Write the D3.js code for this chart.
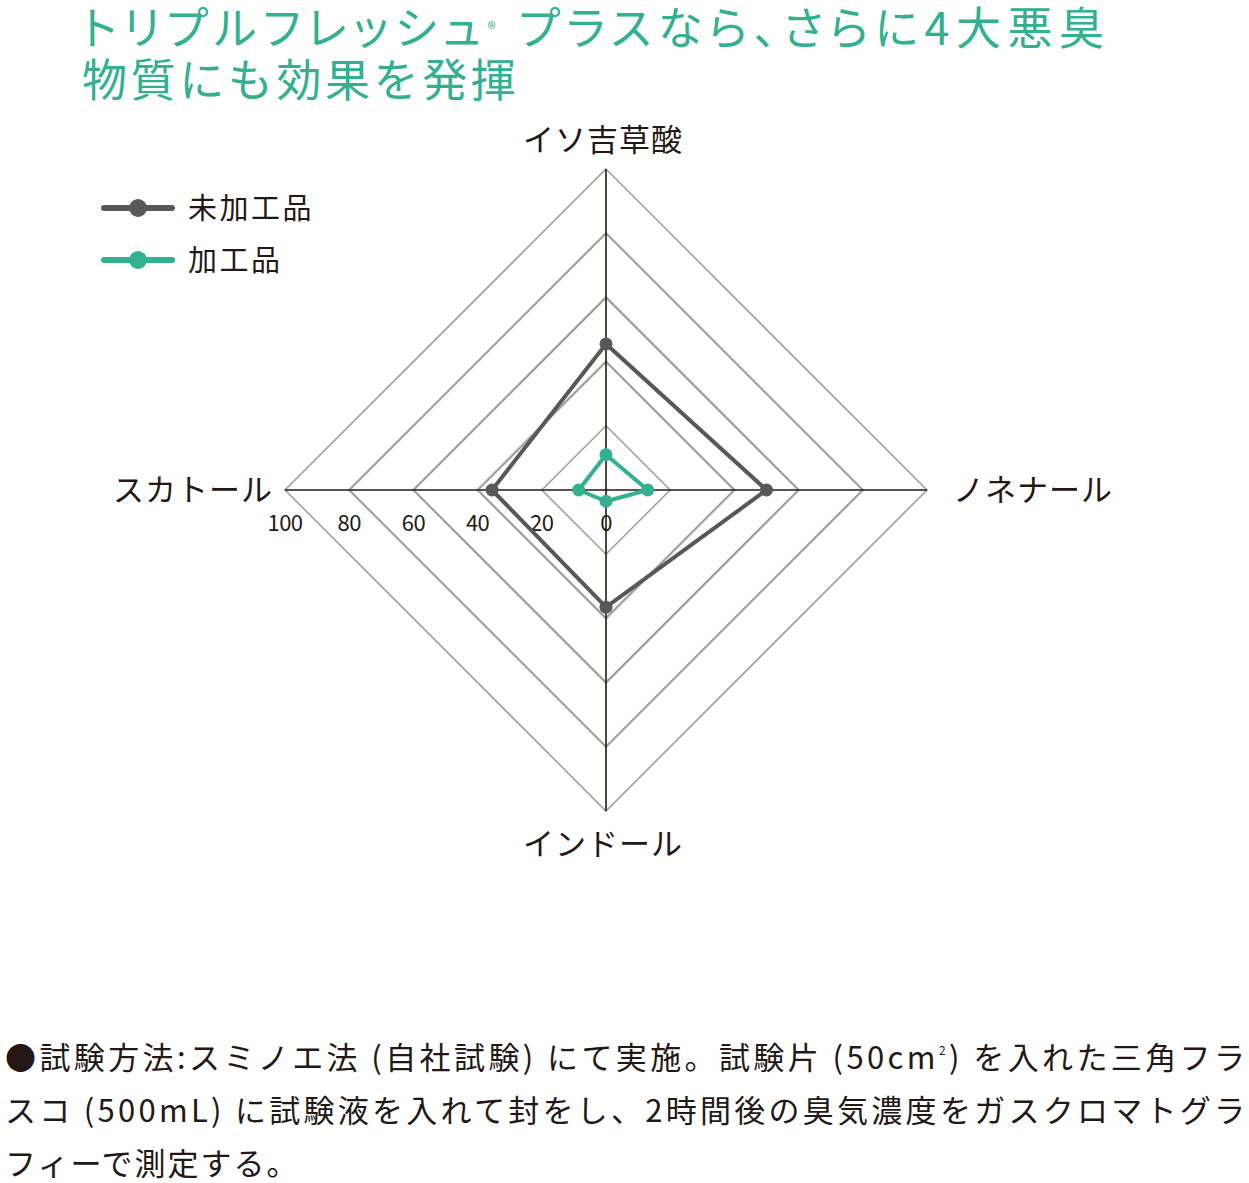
<!DOCTYPE html>
<html>
<head>
<meta charset="utf-8">
<script src="https://cdn.jsdelivr.net/npm/d3@7"></script>
<style>
  body { margin: 0; background: #fff; }
  svg text { font-family: "Noto Sans CJK JP", "Noto Sans", sans-serif; }
  .palt { font-feature-settings: "palt"; }
</style>
</head>
<body>
<div id="chart"></div>
<script>
const axes = ["イソ吉草酸", "ノネナール", "インドール", "スカトール"];
const seriesNames = ["未加工品", "加工品"];
const rawValues = [45.5, 50, 36.5, 35.5];
const treatedValues = [11, 13, 3.5, 8.5];
const ticks = [0, 20, 40, 60, 80, 100];
const noteLines = [
  "●試験方法:スミノエ法 (自社試験) にて実施。試験片 (50cm²) を入れた三角フラ",
  "スコ (500mL) に試験液を入れて封をし、2時間後の臭気濃度をガスクロマトグラ",
  "フィーで測定する。"
];

const W = 1249, H = 1183;
const cx = 606, cy = 490;
const green = "#33b08f", gray = "#595757", ink = "#231815";

const svg = d3.select("#chart").append("svg")
    .attr("width", W).attr("height", H);

// Title
const title = svg.append("g").attr("fill", green).attr("font-size", 45);
const t1 = title.append("text").attr("class", "palt").attr("x", 82).attr("y", 45)
    .attr("textLength", 1022).attr("lengthAdjust", "spacing");
t1.append("tspan").text("トリプルフレッシュ");
t1.append("tspan").attr("font-size", 17).attr("dy", -10).text("®");
t1.append("tspan").attr("dy", 10).text(" プラスなら、さらに4大悪臭");
title.append("text").attr("x", 82).attr("y", 97).attr("letter-spacing", 3.6)
    .text("物質にも効果を発揮");

const r = d3.scaleLinear().domain([0, 100]).range([0, 321]);
const angle = i => -Math.PI / 2 + i * Math.PI / 2;
const pt = (v, i) => [cx + r(v) * Math.cos(angle(i)), cy + r(v) * Math.sin(angle(i))];
const line = d3.line().curve(d3.curveLinearClosed);

// Rings
svg.append("g").selectAll("path")
    .data(ticks.filter(d => d > 0))
    .join("path")
    .attr("d", d => line(axes.map((a, i) => pt(d, i))))
    .attr("fill", "none")
    .attr("stroke", "#9fa0a0")
    .attr("stroke-width", d => d === 100 || d === 20 ? 1.6 : 2.2);

// Spokes
svg.append("g").selectAll("line")
    .data(axes)
    .join("line")
    .attr("x1", cx).attr("y1", cy)
    .attr("x2", (d, i) => pt(100, i)[0])
    .attr("y2", (d, i) => pt(100, i)[1])
    .attr("stroke", ink).attr("stroke-width", 1.6);

// Tick labels
svg.append("g").attr("fill", ink).attr("font-size", 22)
    .selectAll("text")
    .data(ticks)
    .join("text")
    .attr("x", d => cx - r(d))
    .attr("y", 531)
    .attr("text-anchor", "middle")
    .attr("letter-spacing", -0.5)
    .text(d => d);

// Axis labels
const labelPos = [
  {x: 603, y: 151, anchor: "middle"},
  {x: 953, y: 501, anchor: "start"},
  {x: 603, y: 855, anchor: "middle"},
  {x: 273, y: 501, anchor: "end"}
];
svg.append("g").attr("fill", ink).attr("font-size", 31)
    .selectAll("text")
    .data(axes)
    .join("text")
    .attr("x", (d, i) => labelPos[i].x)
    .attr("y", (d, i) => labelPos[i].y)
    .attr("text-anchor", (d, i) => labelPos[i].anchor)
    .attr("letter-spacing", 1)
    .text(d => d);

// Series
const series = [
  {name: seriesNames[0], values: rawValues, color: gray},
  {name: seriesNames[1], values: treatedValues, color: green}
];
series.forEach(s => {
  const pts = s.values.map((v, i) => pt(v, i));
  const g = svg.append("g");
  g.append("path")
      .attr("d", line(pts))
      .attr("fill", "none")
      .attr("stroke", s.color)
      .attr("stroke-width", 4)
      .attr("stroke-linejoin", "round");
  g.selectAll("circle")
      .data(pts)
      .join("circle")
      .attr("cx", d => d[0]).attr("cy", d => d[1])
      .attr("r", 6.5)
      .attr("fill", s.color);
});

// Legend
const legend = svg.append("g");
series.forEach((s, i) => {
  const y = 208 + i * 52;
  legend.append("line")
      .attr("x1", 104).attr("x2", 172).attr("y1", y).attr("y2", y)
      .attr("stroke", s.color).attr("stroke-width", 6).attr("stroke-linecap", "round");
  legend.append("circle").attr("cx", 138).attr("cy", y).attr("r", 9).attr("fill", s.color);
  legend.append("text")
      .attr("x", 188).attr("y", y + 11)
      .attr("font-size", 29).attr("fill", ink).attr("letter-spacing", 2.5)
      .text(s.name);
});

// Note
const note = svg.append("g").attr("fill", ink).attr("font-size", 31)
    .selectAll("text")
    .data(noteLines)
    .join("text")
    .attr("x", 5)
    .attr("y", (d, i) => 1069 + i * 53)
    .attr("textLength", (d, i) => i < 2 ? 1240 : null)
    .attr("lengthAdjust", "spacing")
    .attr("letter-spacing", (d, i) => i === 2 ? 2 : null);
note.each(function(d) {
  const parts = d.split("²");
  const el = d3.select(this);
  parts.forEach((p, k) => {
    if (k > 0) el.append("tspan").attr("font-size", 12).attr("dy", -14).text("2");
    el.append("tspan").attr("dy", k > 0 ? 14 : null).text(p);
  });
});
</script>
</body>
</html>
